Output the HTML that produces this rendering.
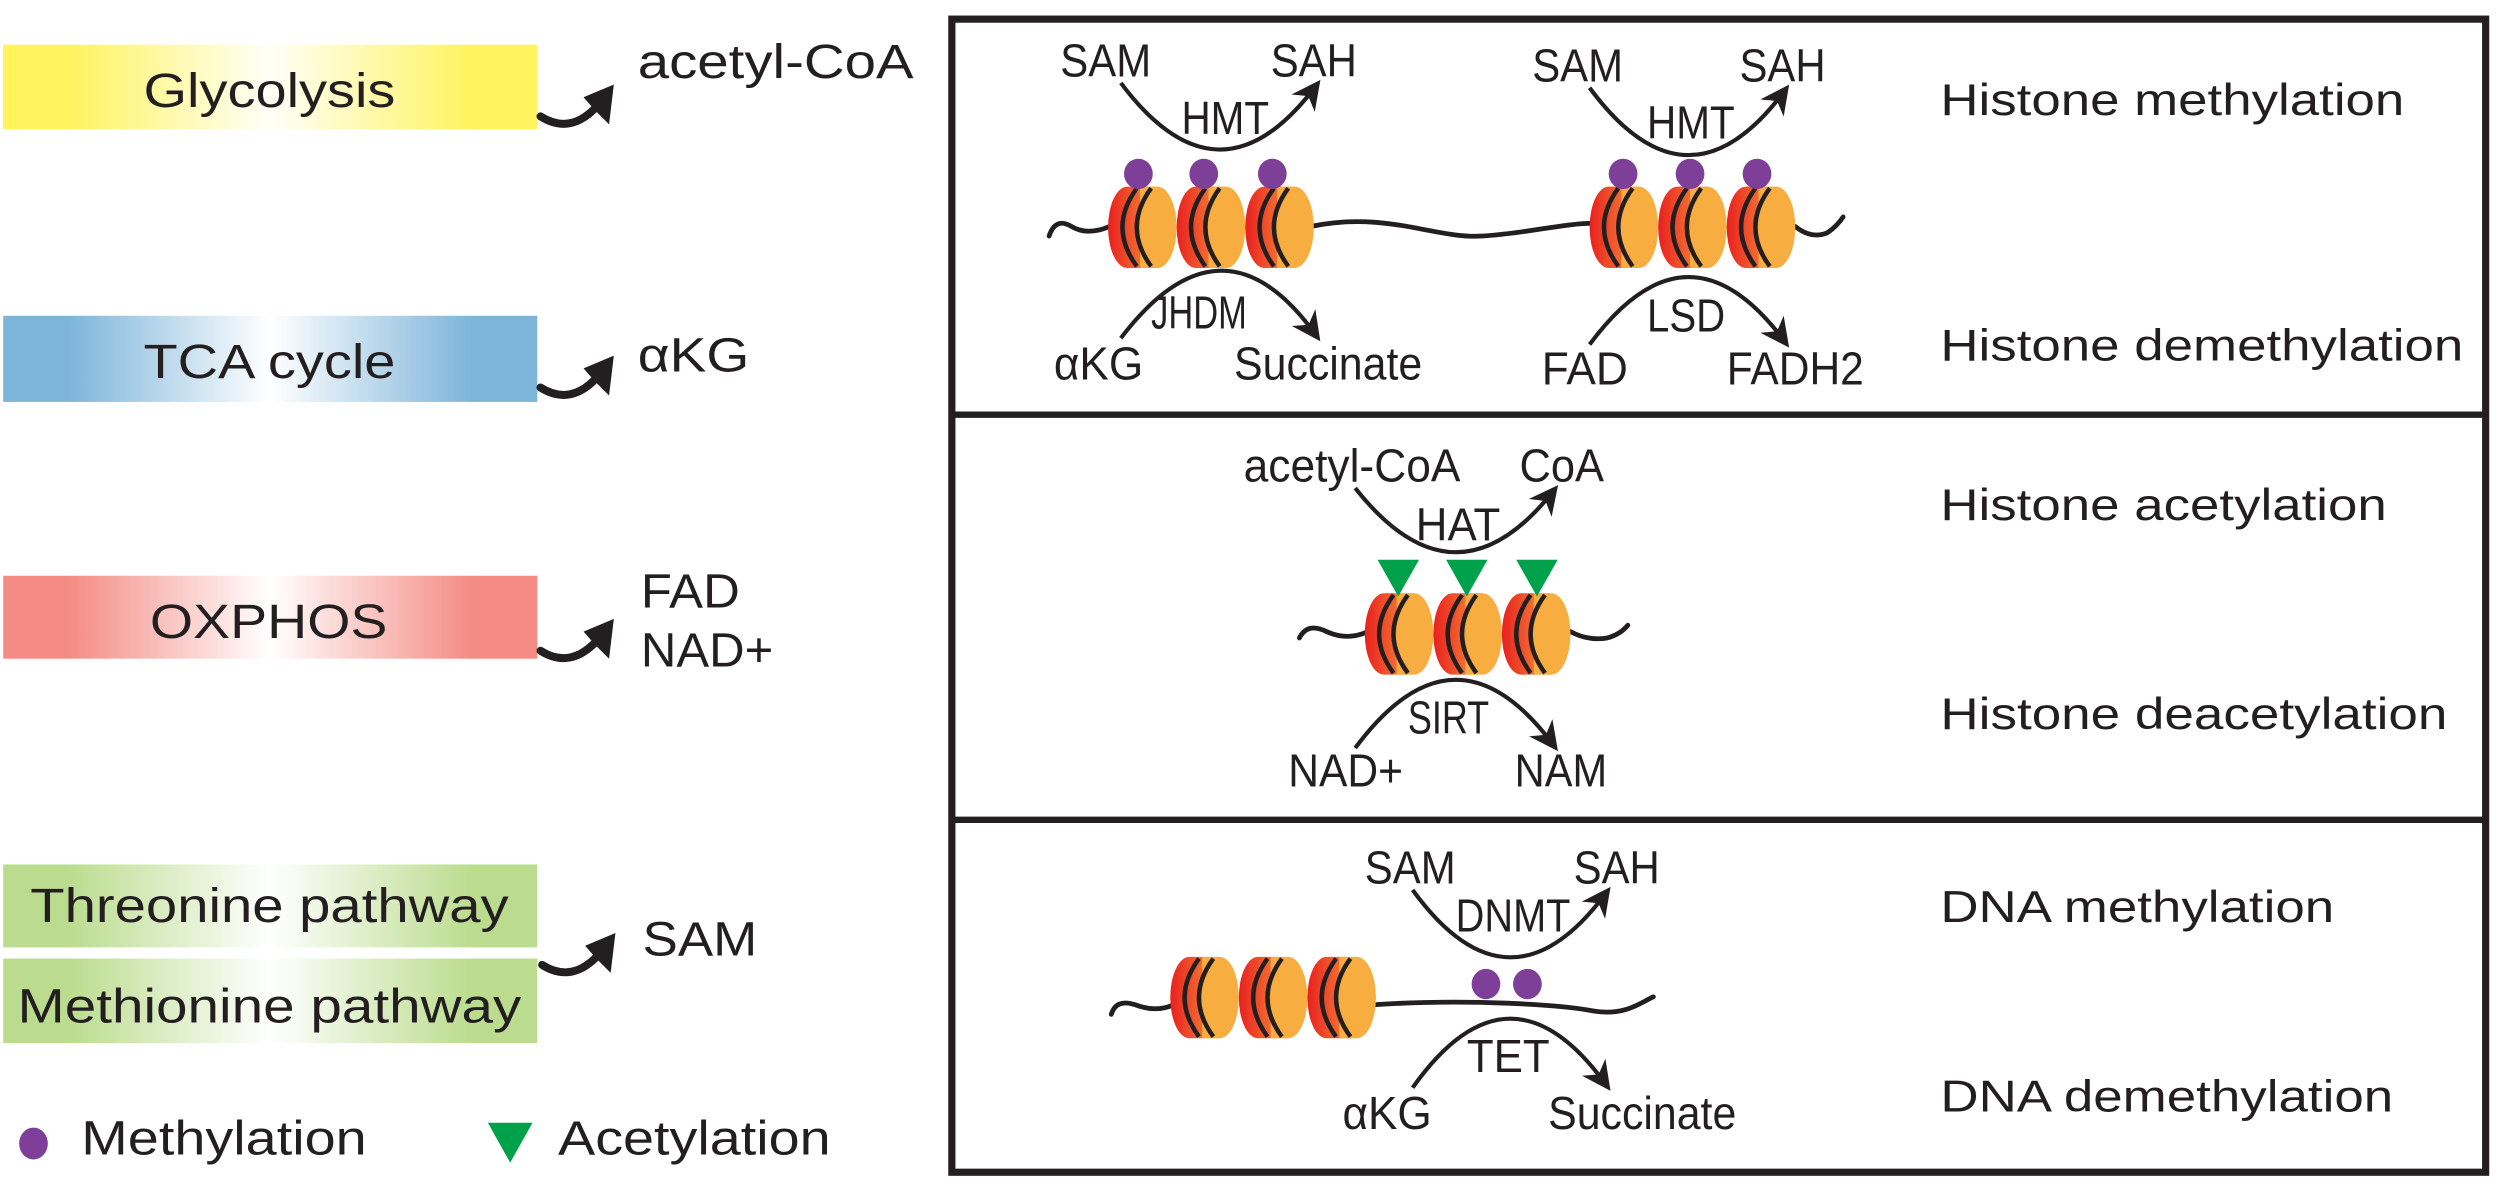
<!DOCTYPE html>
<html><head><meta charset="utf-8"><style>
html,body{margin:0;padding:0;background:#fff;}
svg{display:block;}
text{font-family:"Liberation Sans",Arial,sans-serif;fill:#231f20;}
</style></head><body>
<svg width="2500" height="1185" viewBox="0 0 1568 743" preserveAspectRatio="none" xmlns="http://www.w3.org/2000/svg">
<defs>
<linearGradient id="gy" x1="0" x2="1"><stop offset="0.12" stop-color="#fff35e"/><stop offset="0.5" stop-color="#fffff8"/><stop offset="0.88" stop-color="#fff35e"/></linearGradient>
<linearGradient id="gb" x1="0" x2="1"><stop offset="0.12" stop-color="#7db4da"/><stop offset="0.5" stop-color="#ffffff"/><stop offset="0.88" stop-color="#7db4da"/></linearGradient>
<linearGradient id="gr" x1="0" x2="1"><stop offset="0.12" stop-color="#f48b84"/><stop offset="0.5" stop-color="#ffffff"/><stop offset="0.88" stop-color="#f48b84"/></linearGradient>
<linearGradient id="gg" x1="0" x2="1"><stop offset="0.12" stop-color="#bbdc8e"/><stop offset="0.5" stop-color="#ffffff"/><stop offset="0.88" stop-color="#bbdc8e"/></linearGradient>
<linearGradient id="nr" x1="0" x2="1"><stop offset="0" stop-color="#e8201f"/><stop offset="1" stop-color="#f7913a"/></linearGradient>
<marker id="ah" viewBox="0 0 10 10" refX="8" refY="5" markerWidth="7" markerHeight="7" orient="auto"><path d="M0,0 L10,5 L0,10 L3,5 Z" fill="#231f20"/></marker>
<g id="nuc">
<path d="M12,0 H30 V51 H12 A12,25.5 0 0 1 12,0 Z" fill="url(#nr)"/>
<ellipse cx="31" cy="25.5" rx="12" ry="25.5" fill="#f8ad40"/>
<rect x="20" y="0" width="11" height="51" fill="#f8ad40"/>
<path d="M18,1 Q0,25.5 18,50" fill="none" stroke="#231f20" stroke-width="2.8"/>
<path d="M27,1 Q9,25.5 27,50" fill="none" stroke="#231f20" stroke-width="2.8"/>
</g>
</defs>

<rect x="2" y="28" width="335" height="53" fill="url(#gy)"/>
<text x="90" y="67" font-size="30" textLength="158" lengthAdjust="spacingAndGlyphs">Glycolysis</text>
<rect x="2" y="198" width="335" height="54" fill="url(#gb)"/>
<text x="90" y="237" font-size="30" textLength="158" lengthAdjust="spacingAndGlyphs">TCA cycle</text>
<rect x="2" y="361" width="335" height="52" fill="url(#gr)"/>
<text x="94" y="400" font-size="30" textLength="149" lengthAdjust="spacingAndGlyphs">OXPHOS</text>
<rect x="2" y="542" width="335" height="52" fill="url(#gg)"/>
<text x="19" y="578" font-size="30" textLength="300" lengthAdjust="spacingAndGlyphs">Threonine pathway</text>
<rect x="2" y="601" width="335" height="53" fill="url(#gg)"/>
<text x="11" y="641" font-size="30" textLength="316" lengthAdjust="spacingAndGlyphs">Methionine pathway</text>

<g fill="none" stroke="#231f20" stroke-width="5" stroke-linecap="round">
<path d="M339,73 Q358,85 375,66"/>
<path d="M339,243 Q358,255 375,236"/>
<path d="M339,408 Q358,420 375,401"/>
<path d="M340,605 Q359,617 376,598"/>
</g>
<g fill="#231f20">
<path d="M385,53 L382,78 L373,69 L366,61 Z"/>
<path d="M385,223 L382,248 L373,239 L366,231 Z"/>
<path d="M385,388 L382,413 L373,404 L366,396 Z"/>
<path d="M386,585 L383,610 L374,601 L367,593 Z"/>
</g>
<text x="400" y="49" font-size="30" textLength="173" lengthAdjust="spacingAndGlyphs">acetyl-CoA</text>
<text x="400" y="233" font-size="30" textLength="70" lengthAdjust="spacingAndGlyphs">αKG</text>
<text x="402" y="381" font-size="30" textLength="62" lengthAdjust="spacingAndGlyphs">FAD</text>
<text x="402" y="418" font-size="30" textLength="83" lengthAdjust="spacingAndGlyphs">NAD+</text>
<text x="403" y="599" font-size="30" textLength="72" lengthAdjust="spacingAndGlyphs">SAM</text>

<ellipse cx="21" cy="717" rx="9" ry="10" fill="#7d3f98"/>
<text x="51" y="724" font-size="30" textLength="179" lengthAdjust="spacingAndGlyphs">Methylation</text>
<path d="M306,704 L334,704 L320,729 Z" fill="#00a14b"/>
<text x="350" y="724" font-size="30" textLength="171" lengthAdjust="spacingAndGlyphs">Acetylation</text>

<rect x="597" y="12" width="962" height="723" fill="none" stroke="#231f20" stroke-width="4.5"/>
<line x1="597" y1="260" x2="1559" y2="260" stroke="#231f20" stroke-width="4"/>
<line x1="597" y1="514" x2="1559" y2="514" stroke="#231f20" stroke-width="4"/>

<g font-size="28">
<text x="1217" y="72" textLength="291" lengthAdjust="spacingAndGlyphs">Histone methylation</text>
<text x="1217" y="226" textLength="328" lengthAdjust="spacingAndGlyphs">Histone demethylation</text>
<text x="1217" y="326" textLength="280" lengthAdjust="spacingAndGlyphs">Histone acetylation</text>
<text x="1217" y="457" textLength="318" lengthAdjust="spacingAndGlyphs">Histone deacetylation</text>
<text x="1217" y="578" textLength="247" lengthAdjust="spacingAndGlyphs">DNA methylation</text>
<text x="1217" y="697" textLength="284" lengthAdjust="spacingAndGlyphs">DNA demethylation</text>
</g>

<g fill="none" stroke="#231f20" stroke-width="3" stroke-linecap="round">
<path d="M658,148 Q662,136 672,142 Q682,148 696,142"/>
<path d="M822,142 C870,132 900,150 930,148 C960,146 980,140 1000,140"/>
<path d="M1126,142 Q1136,150 1146,146 Q1152,142 1156,136"/>
<path d="M815,400 Q820,390 832,396 Q845,402 858,396"/>
<path d="M985,396 Q996,402 1008,400 Q1016,398 1021,392"/>
<path d="M697,636 Q700,626 712,630 Q725,635 736,630"/>
<path d="M862,630 C920,626 980,630 1000,634 C1020,637 1030,628 1037,625"/>
</g>

<use href="#nuc" x="695" y="117"/><use href="#nuc" x="738" y="117"/><use href="#nuc" x="781" y="117"/>
<use href="#nuc" x="997" y="117"/><use href="#nuc" x="1040" y="117"/><use href="#nuc" x="1083" y="117"/>
<g fill="#7d3f98">
<ellipse cx="714" cy="109" rx="9" ry="9.5"/><ellipse cx="755" cy="109" rx="9" ry="9.5"/><ellipse cx="798" cy="109" rx="9" ry="9.5"/>
<ellipse cx="1018" cy="109" rx="9" ry="9.5"/><ellipse cx="1060" cy="109" rx="9" ry="9.5"/><ellipse cx="1102" cy="109" rx="9" ry="9.5"/>
</g>
<use href="#nuc" x="856" y="372"/><use href="#nuc" x="899" y="372"/><use href="#nuc" x="942" y="372"/>
<g fill="#00a14b">
<path d="M864,351 L890,351 L877,374 Z"/><path d="M907,351 L933,351 L920,374 Z"/><path d="M951,351 L977,351 L964,374 Z"/>
</g>
<use href="#nuc" x="734" y="600"/><use href="#nuc" x="777" y="600"/><use href="#nuc" x="820" y="600"/>
<ellipse cx="932" cy="617" rx="9" ry="9.5" fill="#7d3f98"/><ellipse cx="958" cy="617" rx="9" ry="9.5" fill="#7d3f98"/>

<g fill="none" stroke="#231f20" stroke-width="2.6" marker-end="url(#ah)">
<path d="M703,52 Q765,135 826,53"/>
<path d="M997,55 Q1059,139 1120,56"/>
<path d="M703,212 Q767,128 826,211"/>
<path d="M997,216 Q1059,132 1120,215"/>
<path d="M850,306 Q913,386 975,307"/>
<path d="M850,469 Q913,384 975,468"/>
<path d="M886,558 Q947,642 1008,559"/>
<path d="M886,682 Q947,596 1008,681"/>
</g>

<g font-size="29">
<text x="665" y="48" textLength="57" lengthAdjust="spacingAndGlyphs">SAM</text>
<text x="797" y="48" textLength="54" lengthAdjust="spacingAndGlyphs">SAH</text>
<text x="741" y="84" textLength="55" lengthAdjust="spacingAndGlyphs">HMT</text>
<text x="961" y="51" textLength="57" lengthAdjust="spacingAndGlyphs">SAM</text>
<text x="1091" y="51" textLength="54" lengthAdjust="spacingAndGlyphs">SAH</text>
<text x="1033" y="87" textLength="55" lengthAdjust="spacingAndGlyphs">HMT</text>
<text x="722" y="206" textLength="60" lengthAdjust="spacingAndGlyphs">JHDM</text>
<text x="661" y="238" textLength="56" lengthAdjust="spacingAndGlyphs">αKG</text>
<text x="774" y="238" textLength="118" lengthAdjust="spacingAndGlyphs">Succinate</text>
<text x="1033" y="208" textLength="49" lengthAdjust="spacingAndGlyphs">LSD</text>
<text x="967" y="241" textLength="54" lengthAdjust="spacingAndGlyphs">FAD</text>
<text x="1083" y="241" textLength="86" lengthAdjust="spacingAndGlyphs">FADH2</text>
<text x="780" y="302" textLength="136" lengthAdjust="spacingAndGlyphs">acetyl-CoA</text>
<text x="953" y="302" textLength="53" lengthAdjust="spacingAndGlyphs">CoA</text>
<text x="888" y="339" textLength="53" lengthAdjust="spacingAndGlyphs">HAT</text>
<text x="883" y="460" textLength="51" lengthAdjust="spacingAndGlyphs">SIRT</text>
<text x="808" y="493" textLength="72" lengthAdjust="spacingAndGlyphs">NAD+</text>
<text x="950" y="493" textLength="58" lengthAdjust="spacingAndGlyphs">NAM</text>
<text x="856" y="554" textLength="57" lengthAdjust="spacingAndGlyphs">SAM</text>
<text x="987" y="554" textLength="54" lengthAdjust="spacingAndGlyphs">SAH</text>
<text x="913" y="584" textLength="72" lengthAdjust="spacingAndGlyphs">DNMT</text>
<text x="920" y="672" textLength="52" lengthAdjust="spacingAndGlyphs">TET</text>
<text x="842" y="708" textLength="56" lengthAdjust="spacingAndGlyphs">αKG</text>
<text x="971" y="708" textLength="118" lengthAdjust="spacingAndGlyphs">Succinate</text>
</g>
</svg>
</body></html>
